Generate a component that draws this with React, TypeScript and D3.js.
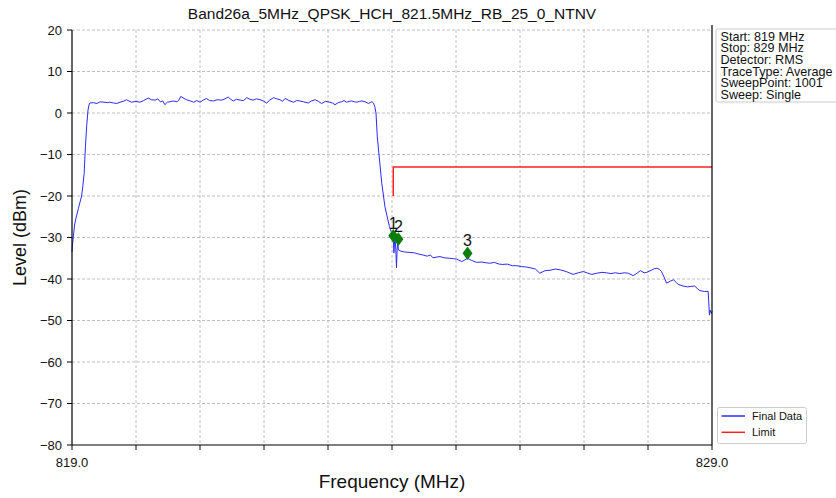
import React from "react";
import * as d3 from "d3";

const chartTitle = "Band26a_5MHz_QPSK_HCH_821.5MHz_RB_25_0_NTNV";
const xTicks = [819, 820, 821, 822, 823, 824, 825, 826, 827, 828, 829];
const xTickLabels = ["819.0", "", "", "", "", "", "", "", "", "", "829.0"];
const yTicks = [20, 10, 0, -10, -20, -30, -40, -50, -60, -70, -80];

const traceData: [number, number][] = [
  [819.0, -33.5], [819.005, -32.2], [819.01, -31.5], [819.02, -30], [819.04, -27], [819.06, -25.5],
  [819.1, -23], [819.15, -20], [819.17, -17.5], [819.19, -14.5], [819.21, -8], [819.23, -3],
  [819.25, 0.7], [819.27, 2.2], [819.28, 2.4], [819.33, 2.5], [819.39, 2.3], [819.44, 2.7],
  [819.5, 2.6], [819.55, 2.5], [819.59, 2.6], [819.65, 2.4], [819.7, 2.3], [819.75, 2.6],
  [819.8, 2.8], [819.85, 3.2], [819.89, 2.9], [819.93, 2.6], [820.0, 2.8], [820.06, 2.6],
  [820.12, 3.0], [820.19, 3.6], [820.24, 3.2], [820.3, 3.1], [820.34, 3.4], [820.38, 2.7],
  [820.42, 2.9], [820.45, 2.0], [820.49, 2.6], [820.53, 2.7], [820.58, 2.9], [820.64, 2.7],
  [820.67, 3.1], [820.7, 4.0], [820.75, 3.5], [820.79, 3.2], [820.85, 2.9], [820.9, 2.6],
  [820.95, 3.0], [821.0, 2.6], [821.05, 3.1], [821.1, 3.5], [821.15, 3.0], [821.21, 2.9],
  [821.27, 3.2], [821.34, 3.1], [821.39, 3.4], [821.44, 3.85], [821.48, 3.3], [821.52, 2.9],
  [821.57, 3.3], [821.63, 3.1], [821.68, 3.0], [821.73, 3.7], [821.78, 3.3], [821.83, 3.1],
  [821.88, 3.4], [821.94, 3.2], [821.99, 2.9], [822.04, 2.4], [822.09, 3.1], [822.15, 3.7],
  [822.2, 3.4], [822.25, 3.2], [822.29, 2.8], [822.33, 3.5], [822.39, 3.0], [822.46, 2.6],
  [822.51, 3.0], [822.56, 2.9], [822.62, 2.7], [822.69, 2.4], [822.74, 2.9], [822.8, 3.2],
  [822.85, 2.8], [822.9, 2.3], [822.96, 2.8], [823.03, 2.6], [823.07, 2.4], [823.11, 2.0],
  [823.16, 2.5], [823.21, 2.7], [823.25, 3.0], [823.29, 2.6], [823.33, 2.8], [823.37, 2.9],
  [823.41, 2.7], [823.45, 2.6], [823.49, 2.8], [823.53, 2.9], [823.58, 2.7], [823.63, 2.3],
  [823.67, 2.6], [823.69, 2.7], [823.71, 2.4], [823.73, 1.6], [823.75, 0], [823.77, -5.7],
  [823.8, -10.5], [823.84, -16.9], [823.89, -22.6], [823.96, -27.4], [824.02, -30], [824.03, -33.7],
  [824.04, -31], [824.05, -30.5], [824.06, -33], [824.07, -37.3], [824.08, -33], [824.09, -31],
  [824.1, -33], [824.14, -33.3], [824.2, -33.5], [824.28, -33.6], [824.35, -33.7], [824.42, -34.0],
  [824.48, -34.2], [824.55, -34.5], [824.6, -34.2], [824.64, -34.9], [824.7, -34.7], [824.75, -34.6],
  [824.82, -34.9], [824.9, -35.0], [824.96, -35.1], [825.01, -35.2], [825.09, -35.8], [825.14, -35.4],
  [825.18, -35.0], [825.24, -35.5], [825.32, -36.0], [825.4, -35.9], [825.47, -36.1], [825.53, -36.2],
  [825.6, -36.0], [825.67, -36.4], [825.73, -36.5], [825.8, -36.4], [825.88, -36.8], [825.95, -36.8],
  [826.02, -37.0], [826.09, -37.1], [826.16, -37.3], [826.24, -37.6], [826.31, -38.6], [826.39, -38.0],
  [826.47, -37.9], [826.55, -37.6], [826.63, -37.8], [826.72, -38.2], [826.83, -38.9], [826.91, -38.5],
  [826.99, -38.2], [827.06, -38.6], [827.12, -38.9], [827.2, -38.6], [827.28, -38.4], [827.35, -38.5],
  [827.42, -38.7], [827.49, -38.5], [827.56, -38.7], [827.63, -38.5], [827.69, -38.6], [827.77, -39.2],
  [827.83, -38.6], [827.88, -38.0], [827.94, -38.5], [827.98, -38.4], [828.05, -37.9], [828.1, -37.5],
  [828.14, -37.4], [828.18, -37.7], [828.21, -38.2], [828.25, -39.5], [828.29, -41.0], [828.35, -40.5],
  [828.4, -40.2], [828.44, -40.8], [828.47, -41.3], [828.55, -41.7], [828.62, -41.9], [828.66, -41.8],
  [828.73, -41.7], [828.77, -42.3], [828.81, -42.8], [828.88, -43.0], [828.94, -43.0], [828.96, -48.7],
  [828.97, -47.5], [828.99, -48.3], [829.0, -47.8],
];

const limitData: [number, number][] = [
  [824.02, -20], [824.02, -13], [829.0, -13],
];

const markerFreq = [824.02, 824.1, 825.18];
const markerLevel = [-29.6, -30.4, -33.8];
const markerLabels = ["1", "2", "3"];

const infoLines = [
  "Start: 819 MHz",
  "Stop: 829 MHz",
  "Detector: RMS",
  "TraceType: Average",
  "SweepPoint: 1001",
  "Sweep: Single",
];

const legendItems = [
  { name: "Final Data", color: "#2b2bff" },
  { name: "Limit", color: "#ff2020" },
];

const W = 836;
const H = 498;
const M = { left: 72, right: 712, top: 30, bottom: 445 };
const FONT = "'Liberation Sans', Arial, sans-serif";

export default function App() {
  const x = d3.scaleLinear().domain([819, 829]).range([M.left, M.right]);
  const y = d3.scaleLinear().domain([-80, 20]).range([M.bottom, M.top]);
  const line = d3
    .line<[number, number]>()
    .x((d) => x(d[0]))
    .y((d) => y(d[1]));

  return (
    <svg
      width={W}
      height={H}
      style={{ position: "absolute", left: 0, top: 0, background: "#fff" }}
      fontFamily={FONT}
    >
      <rect x={0} y={0} width={W} height={H} fill="#fff" />
      {/* grid */}
      {xTicks.slice(1, -1).map((t) => (
        <line key={"gx" + t} x1={x(t)} x2={x(t)} y1={M.top} y2={M.bottom}
          stroke="#b0b0b0" strokeWidth={0.8} strokeDasharray="3,2" />
      ))}
      {yTicks.slice(1, -1).map((t) => (
        <line key={"gy" + t} x1={M.left} x2={M.right} y1={y(t)} y2={y(t)}
          stroke="#b0b0b0" strokeWidth={0.8} strokeDasharray="3,2" />
      ))}
      <line x1={M.left} x2={M.right} y1={y(20)} y2={y(20)} stroke="#b0b0b0" strokeWidth={0.8} strokeDasharray="3,2" />

      {/* limit */}
      <path d={line(limitData) || ""} fill="none" stroke={legendItems[1].color} strokeWidth={1.5} />
      {/* trace */}
      <path d={line(traceData) || ""} fill="none" stroke={legendItems[0].color} strokeWidth={1} strokeLinejoin="round" />

      {/* markers */}
      {markerFreq.map((f, i) => {
        const cx = x(f);
        const cy = y(markerLevel[i]);
        return (
          <g key={"m" + i}>
            <path d={`M${cx},${cy - 6.8} L${cx + 5},${cy} L${cx},${cy + 6.8} L${cx - 5},${cy} Z`} fill="#0a7d0a" />
            <text x={cx} y={cy - 7} textAnchor="middle" fontSize={16} fill="#111">{markerLabels[i]}</text>
          </g>
        );
      })}

      {/* spines */}
      <line x1={M.left} x2={M.left} y1={M.top} y2={M.bottom} stroke="#000" strokeWidth={1.2} />
      <line x1={M.left} x2={M.right} y1={M.bottom} y2={M.bottom} stroke="#000" strokeWidth={1.2} />
      <line x1={M.right} x2={M.right} y1={M.top - 5} y2={M.bottom} stroke="#000" strokeWidth={1.2} />

      {/* x ticks */}
      {xTicks.map((t, i) => (
        <g key={"xt" + t}>
          <line x1={x(t)} x2={x(t)} y1={M.bottom} y2={M.bottom + 5} stroke="#000" strokeWidth={1} />
          {xTickLabels[i] && (
            <text x={x(t)} y={M.bottom + 22} textAnchor="middle" fontSize={13} fill="#111">{xTickLabels[i]}</text>
          )}
        </g>
      ))}
      {/* y ticks */}
      {yTicks.map((t) => (
        <g key={"yt" + t}>
          <line x1={M.left - 5} x2={M.left} y1={y(t)} y2={y(t)} stroke="#000" strokeWidth={1} />
          <text x={M.left - 10} y={y(t) + 4.5} textAnchor="end" fontSize={13} fill="#111">
            {t < 0 ? "\u2212" + Math.abs(t) : String(t)}
          </text>
        </g>
      ))}

      {/* labels */}
      <text x={(M.left + M.right) / 2} y={19} textAnchor="middle" fontSize={15.5} fill="#111">{chartTitle}</text>
      <text x={(M.left + M.right) / 2} y={488} textAnchor="middle" fontSize={19} fill="#111">Frequency (MHz)</text>
      <text transform={`translate(26,${(M.top + M.bottom) / 2}) rotate(-90)`} textAnchor="middle" fontSize={18} fill="#111">Level (dBm)</text>

      {/* info box */}
      <rect x={716} y={29} width={126} height={73} rx={2} fill="#fff" stroke="#cccccc" strokeWidth={1} />
      {infoLines.map((s, i) => (
        <text key={"info" + i} x={720.5} y={40.5 + i * 11.7} fontSize={12.6} fill="#111">{s}</text>
      ))}

      {/* legend */}
      <rect x={717.5} y={407.5} width={89} height={36} rx={2} fill="#fff" stroke="#cccccc" strokeWidth={1} />
      {legendItems.map((it, i) => (
        <g key={"lg" + i}>
          <line x1={721.5} x2={745} y1={416 + i * 16.3} y2={416 + i * 16.3} stroke={it.color} strokeWidth={1.5} />
          <text x={752} y={420 + i * 16.3} fontSize={11} fill="#111">{it.name}</text>
        </g>
      ))}
    </svg>
  );
}
